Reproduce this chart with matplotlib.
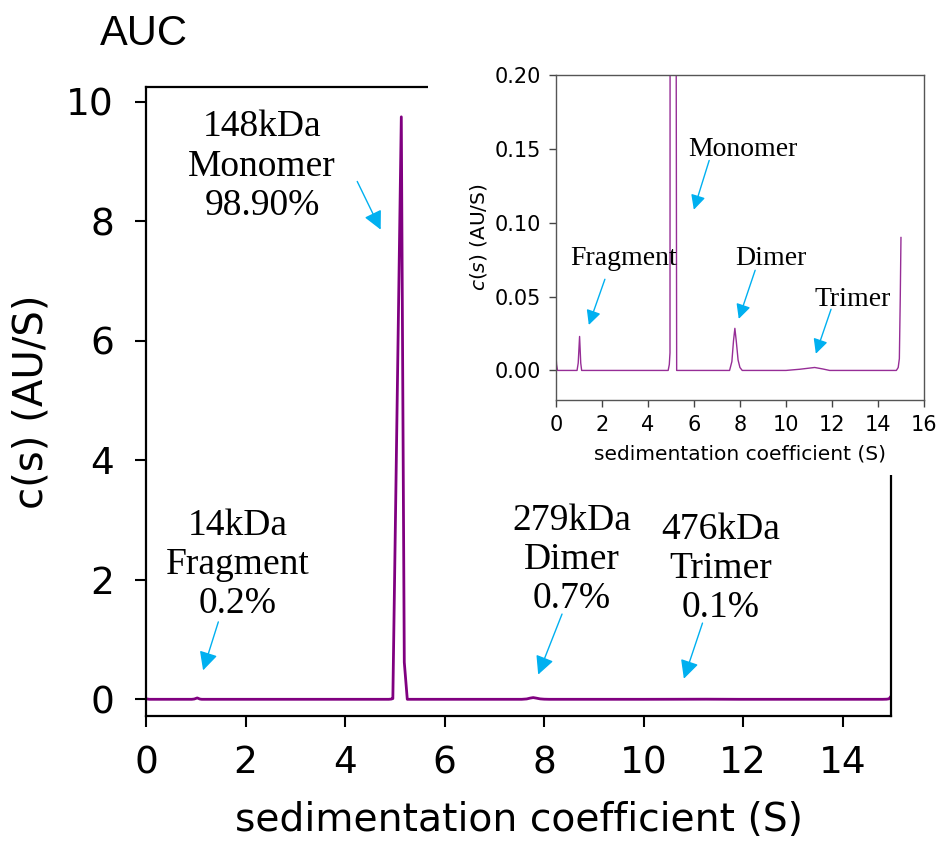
import matplotlib.pyplot as plt
from matplotlib.patches import Rectangle

# sedimentation coefficient (S) and c(s) (AU/S)
sed = [0.0, 0.03, 0.07, 0.92, 0.97, 1.03, 1.08, 1.12,
       4.88, 4.93, 4.96, 5.13, 5.19, 5.25,
       7.55, 7.65, 7.72, 7.78, 7.84, 7.92, 8.0, 8.1,
       10.0, 10.6, 11.25, 11.6, 11.9,
       14.8, 14.88, 14.93, 14.97, 15.0]
cs = [0.011, 0.004, 0.0, 0.0, 0.005, 0.023, 0.005, 0.0,
      0.0, 0.004, 0.012, 9.75, 0.62, 0.0,
      0.0, 0.006, 0.02, 0.0285, 0.02, 0.007, 0.002, 0.0,
      0.0, 0.0008, 0.002, 0.001, 0.0,
      0.0, 0.002, 0.008, 0.05, 0.09]

species = ['Monomer', 'Fragment', 'Dimer', 'Trimer']
mass = ['148kDa', '14kDa', '279kDa', '476kDa']
percent = ['98.90%', '0.2%', '0.7%', '0.1%']

purple = '#800080'
blue = '#00b0f0'

fig = plt.figure(figsize=(9.39, 8.41), dpi=100)

# main plot
ax = fig.add_axes([0.1555, 0.1486, 0.7939, 0.748])
ax.plot(sed, cs, color=purple, lw=2)
ax.set_xlim(0, 14.98)
ax.set_ylim(-0.28, 10.25)
ax.set_xticks(range(0, 15, 2))
ax.set_yticks(range(0, 11, 2))
ax.tick_params(labelsize=27, length=8, width=1.5, direction='out')
ax.tick_params(axis='x', pad=13)
ax.tick_params(axis='y', pad=15)
for sp in ax.spines.values():
    sp.set_linewidth(1.6)
ax.set_xlabel('sedimentation coefficient (S)', fontsize=28.3, labelpad=14)
ax.set_ylabel('c(s) (AU/S)', fontsize=29, labelpad=11)

serif = 'Liberation Serif'
txt_pos = [(2.33, 8.11), (1.85, 1.44), (8.56, 1.52), (11.54, 1.37)]
arr_from = [(4.22, 8.71), (1.47, 1.34), (8.38, 1.47), (11.20, 1.32)]
arr_to = [(4.74, 7.82), (1.13, 0.44), (7.86, 0.37), (10.79, 0.30)]
for i in range(4):
    ax.text(txt_pos[i][0], txt_pos[i][1], f'{mass[i]}\n{species[i]}\n{percent[i]}',
            family=serif, fontsize=27, ha='center', va='baseline', linespacing=1.18)
    ax.annotate('', xy=arr_to[i], xytext=arr_from[i],
                arrowprops=dict(arrowstyle='-|>', color=blue, lw=1.0, mutation_scale=28))

fig.text(0.1065, 0.946, 'AUC', family='Liberation Sans', fontsize=30)

# white block where the inset sits
fig.patches.append(Rectangle((0.4558, 0.4352), 0.6, 0.6, transform=fig.transFigure,
                             facecolor='white', edgecolor='none', zorder=1))

# inset
ins = fig.add_axes([0.592, 0.5244, 0.392, 0.3864], zorder=2)
ins.plot(sed, cs, color='#962d96', lw=1.0)
ins.set_xlim(0, 16)
ins.set_ylim(-0.02, 0.20)
ins.set_xticks(range(0, 17, 2))
ins.set_yticks([0.0, 0.05, 0.10, 0.15, 0.20])
ins.set_yticklabels(['0.00', '0.05', '0.10', '0.15', '0.20'])
ins.tick_params(labelsize=15, length=5, width=1.0, color='#444444', pad=6)
for sp in ins.spines.values():
    sp.set_color('#555555')
    sp.set_linewidth(1.0)
ins.set_xlabel('sedimentation coefficient (S)', fontsize=14.5, labelpad=7)
ins.set_ylabel('$c(s)$ (AU/S)', fontsize=14.5, labelpad=4)

in_txt = [(8.13, 0.145), (2.96, 0.0716), (9.35, 0.0716), (12.91, 0.0439)]
in_from = [(6.70, 0.144), (2.17, 0.0635), (8.70, 0.0696), (12.0, 0.0432)]
in_to = [(5.96, 0.107), (1.39, 0.029), (7.91, 0.0331), (11.26, 0.0095)]
for i in range(4):
    ins.text(in_txt[i][0], in_txt[i][1], species[i], family=serif, fontsize=20,
             ha='center', va='baseline')
    ins.annotate('', xy=in_to[i], xytext=in_from[i],
                 arrowprops=dict(arrowstyle='-|>', color=blue, lw=1.0, mutation_scale=22))

fig.savefig('out.png', dpi=100)
